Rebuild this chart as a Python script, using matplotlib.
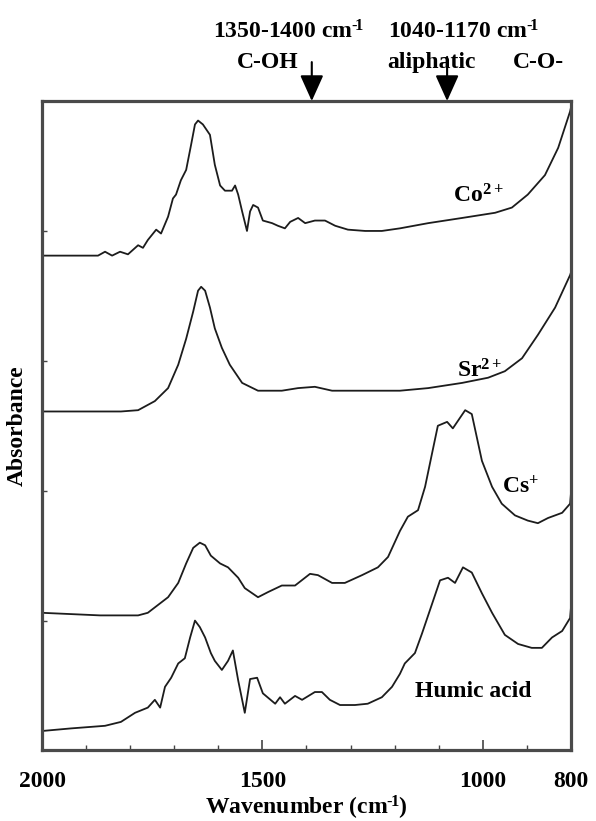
import matplotlib
matplotlib.use('Agg')
import matplotlib.pyplot as plt
from matplotlib.ticker import MultipleLocator

plt.rcParams['font.family'] = ['Liberation Serif', 'DejaVu Serif']
plt.rcParams['font.weight'] = 'bold'
plt.rcParams['mathtext.fontset'] = 'custom'
plt.rcParams['mathtext.rm'] = 'Liberation Serif:bold'
plt.rcParams['mathtext.bf'] = 'Liberation Serif:bold'
plt.rcParams['mathtext.it'] = 'Liberation Serif:bold'

# spectra (wavenumber in cm-1, absorbance offset in arbitrary units)
co_wn = [2000, 1936, 1873, 1857, 1841, 1823, 1805, 1782, 1771, 1760, 1741, 1730, 1714, 1703,
         1696, 1685, 1673, 1662, 1653, 1646, 1635, 1619, 1608, 1596, 1585, 1569, 1562, 1555,
         1546, 1535, 1528, 1521, 1510, 1499, 1478, 1465, 1449, 1437, 1419, 1403, 1381, 1358,
         1335, 1306, 1267, 1229, 1188, 1124, 1047, 972, 934, 898, 859, 829, 802, 800]
co_abs = [3.81, 3.81, 3.81, 3.84, 3.81, 3.84, 3.82, 3.89, 3.87, 3.93, 4.01, 3.98, 4.11, 4.25,
          4.28, 4.39, 4.47, 4.66, 4.82, 4.85, 4.82, 4.74, 4.51, 4.35, 4.31, 4.31, 4.35, 4.28,
          4.15, 4.00, 4.15, 4.20, 4.18, 4.08, 4.06, 4.04, 4.02, 4.07, 4.10, 4.06, 4.08, 4.08,
          4.04, 4.01, 4.00, 4.00, 4.02, 4.06, 4.10, 4.14, 4.18, 4.28, 4.43, 4.64, 4.92, 4.95]

sr_wn = [2000, 1821, 1782, 1744, 1714, 1691, 1673, 1657, 1646, 1639, 1630, 1619, 1608, 1592,
         1574, 1546, 1510, 1456, 1419, 1381, 1342, 1283, 1188, 1124, 1047, 988, 950, 911,
         875, 836, 802, 800]
sr_abs = [2.61, 2.61, 2.62, 2.69, 2.79, 2.97, 3.17, 3.38, 3.54, 3.57, 3.54, 3.41, 3.25, 3.10,
          2.97, 2.83, 2.77, 2.77, 2.79, 2.80, 2.77, 2.77, 2.77, 2.79, 2.83, 2.87, 2.92, 3.02,
          3.20, 3.41, 3.66, 3.68]

cs_wn = [2000, 1868, 1782, 1760, 1737, 1714, 1691, 1673, 1657, 1642, 1630, 1617, 1596, 1578,
         1555, 1540, 1510, 1487, 1456, 1426, 1392, 1374, 1342, 1313, 1274, 1238, 1215, 1188,
         1170, 1147, 1131, 1115, 1102, 1081, 1068, 1040, 1025, 1002, 979, 957, 927, 898,
         875, 852, 820, 802, 800]
cs_abs = [1.06, 1.04, 1.04, 1.06, 1.12, 1.18, 1.29, 1.44, 1.56, 1.60, 1.58, 1.50, 1.44, 1.41,
          1.33, 1.25, 1.18, 1.22, 1.27, 1.27, 1.36, 1.35, 1.29, 1.29, 1.35, 1.41, 1.49, 1.69,
          1.80, 1.85, 2.03, 2.29, 2.50, 2.53, 2.48, 2.62, 2.59, 2.23, 2.03, 1.90, 1.81, 1.77,
          1.75, 1.79, 1.83, 1.90, 1.98]

ha_wn = [2000, 1934, 1857, 1821, 1789, 1760, 1744, 1732, 1721, 1707, 1691, 1676, 1664, 1653,
         1642, 1630, 1617, 1608, 1592, 1578, 1567, 1555, 1540, 1528, 1512, 1499, 1471, 1460,
         1449, 1426, 1410, 1381, 1365, 1347, 1324, 1290, 1261, 1229, 1206, 1188, 1177, 1154,
         1138, 1115, 1097, 1079, 1063, 1045, 1025, 1002, 979, 950, 920, 889, 866, 843, 820,
         802, 800]
ha_abs = [0.15, 0.17, 0.19, 0.22, 0.29, 0.33, 0.39, 0.33, 0.49, 0.56, 0.67, 0.71, 0.87, 1.00,
          0.95, 0.87, 0.75, 0.69, 0.62, 0.69, 0.77, 0.54, 0.29, 0.55, 0.56, 0.44, 0.36, 0.41,
          0.36, 0.42, 0.39, 0.45, 0.45, 0.39, 0.35, 0.35, 0.36, 0.41, 0.49, 0.59, 0.67, 0.75,
          0.90, 1.13, 1.31, 1.33, 1.29, 1.41, 1.37, 1.21, 1.06, 0.89, 0.82, 0.79, 0.79, 0.87, 0.92,
          1.02, 1.10]

x_ticks = [2000, 1500, 1000, 800]
x_ticklabels = ['2000', '1500', '1000', '800']
y_ticks = [1, 2, 3, 4]

fig = plt.figure(figsize=(5.96, 8.21), dpi=100)
ax = fig.add_axes([0.0705, 0.0859, 0.8875, 0.791])

lc = '#1c1c1c'
for wn, ab in [(co_wn, co_abs), (sr_wn, sr_abs), (cs_wn, cs_abs), (ha_wn, ha_abs)]:
    ax.plot(wn, ab, color=lc, lw=1.3)

ax.set_xlim(2000, 800)
ax.set_ylim(0, 5)
ax.set_xticks(x_ticks)
ax.set_xticklabels(x_ticklabels)
ax.xaxis.set_minor_locator(MultipleLocator(100))
ax.set_yticks(y_ticks)
ax.set_yticklabels([])
ax.tick_params(axis='x', which='major', direction='in', length=7, width=1.2,
               pad=15, labelsize=17, colors='#444444', labelcolor='black')
ax.tick_params(axis='x', which='minor', direction='in', length=3.5, width=1.0, colors='#444444')
ax.tick_params(axis='y', which='major', direction='in', length=3.5, width=1.0, colors='#444444')
for sp in ax.spines.values():
    sp.set_linewidth(2.3)
    sp.set_color('#4a4a4a')

inv_cm = 'cm$^{\u2010\\!1}$'
ax.set_xlabel('Wavenumber (' + inv_cm + ')', fontsize=17, fontweight='bold', labelpad=1)
ax.set_ylabel('Absorbance', fontsize=17, fontweight='bold', labelpad=7)

fs = 17
ax.text(1068, 4.22, 'Co$^{2+}$', fontsize=fs, fontweight='bold', va='baseline', ha='left')
ax.text(1059, 2.87, 'Sr$^{2+}$', fontsize=fs, fontweight='bold', va='baseline', ha='left')
ax.text(957, 1.98, 'Cs$^{+}$', fontsize=fs, fontweight='bold', va='baseline', ha='left')
ax.text(1154, 0.41, 'Humic acid', fontsize=fs, fontweight='bold', va='baseline', ha='left')

# band annotations above the frame
ax.text(1612, 5.485, '1350-1400 ' + inv_cm, fontsize=fs, fontweight='bold', va='baseline',
        ha='left', clip_on=False)
ax.text(1558, 5.254, 'C-OH', fontsize=fs, fontweight='bold', va='baseline', ha='left', clip_on=False)
ax.text(1215, 5.485, '1040-1170 ' + inv_cm, fontsize=fs, fontweight='bold', va='baseline',
        ha='left', clip_on=False)
ax.text(1217, 5.254, 'aliphatic', fontsize=fs, fontweight='bold', va='baseline', ha='left',
        clip_on=False)
ax.text(932, 5.254, 'C-O-', fontsize=fs, fontweight='bold', va='baseline', ha='left', clip_on=False)

arrow_style = dict(arrowstyle='-|>,head_length=1.0,head_width=0.45', mutation_scale=16,
                   color='black', lw=1.5, shrinkA=0, shrinkB=0)
ax.annotate('', xy=(1388, 5.0), xytext=(1388, 5.30), arrowprops=arrow_style, annotation_clip=False)
ax.annotate('', xy=(1081, 5.0), xytext=(1081, 5.34), arrowprops=arrow_style, annotation_clip=False)

fig.savefig('out.png', dpi=100)
